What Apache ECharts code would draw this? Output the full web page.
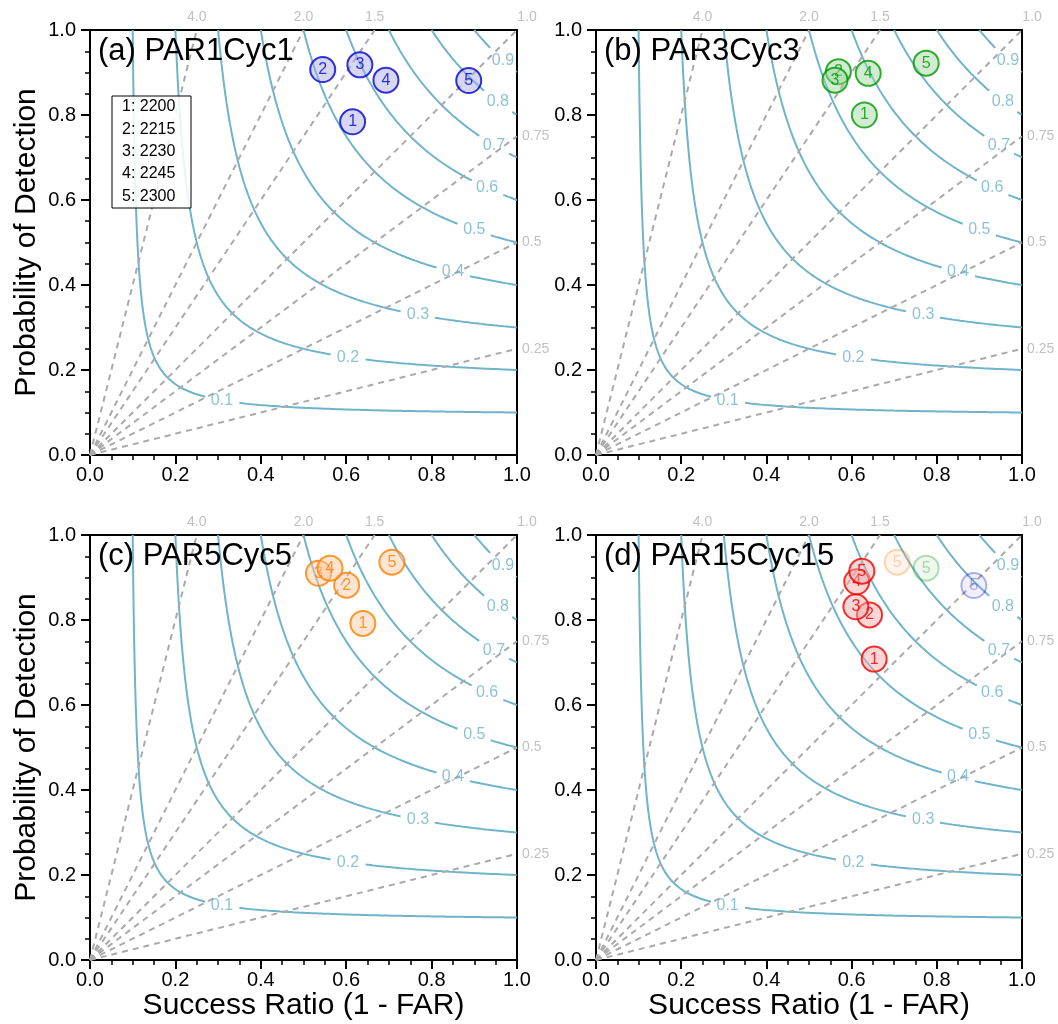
<!DOCTYPE html>
<html><head><meta charset="utf-8">
<script src="https://cdn.jsdelivr.net/npm/echarts@6/dist/echarts.min.js"></script>
<style>html,body{margin:0;padding:0;background:#fff}#c{width:1058px;height:1024px}</style>
</head><body><div id="c"></div>
<script>
// ---------- data ----------
const panelTitles = ['(a) PAR1Cyc1', '(b) PAR3Cyc3', '(c) PAR5Cyc5', '(d) PAR15Cyc15'];
const times = ['2200', '2215', '2230', '2245', '2300'];
const pointNames = ['1', '2', '3', '4', '5'];
const csiLevels = [0.1, 0.2, 0.3, 0.4, 0.5, 0.6, 0.7, 0.8, 0.9];
const csiLabelSR = [0.309, 0.604, 0.768, 0.85, 0.90, 0.93, 0.946, 0.955, 0.967];
const biasLevels = [4.0, 2.0, 1.5, 1.0, 0.75, 0.5, 0.25];
const biasLabels = ['4.0', '2.0', '1.5', '1.0', '0.75', '0.5', '0.25'];
// success ratio / POD for each panel
const srA = [0.615, 0.545, 0.632, 0.693, 0.887];
const podA = [0.784, 0.907, 0.918, 0.882, 0.881];
const srB = [0.630, 0.569, 0.561, 0.639, 0.775];
const podB = [0.800, 0.902, 0.882, 0.898, 0.922];
const srC = [0.639, 0.601, 0.535, 0.562, 0.707];
const podC = [0.792, 0.882, 0.910, 0.922, 0.936];
const srD = [0.653, 0.642, 0.610, 0.612, 0.624];
const podD = [0.708, 0.812, 0.831, 0.890, 0.915];

// ---------- style ----------
const FONT = 'Liberation Sans, Arial, Helvetica, sans-serif';
const CSI_COLOR = '#6fb4c9';
const BIAS_COLOR = '#aaaaaa';
const grids = [
  {left: 90, top: 30, width: 427, height: 425},
  {left: 596, top: 30, width: 426, height: 425},
  {left: 90, top: 535, width: 427, height: 425},
  {left: 596, top: 535, width: 426, height: 425}
];
const palettes = [
  {edge: '#0000cc', fill: 'rgba(170,170,235,0.6)'},
  {edge: '#009900', fill: 'rgba(160,215,160,0.6)'},
  {edge: '#ff7f00', fill: 'rgba(255,200,160,0.6)'},
  {edge: '#ee0000', fill: 'rgba(245,170,170,0.6)'}
];
const panelData = [[srA, podA], [srB, podB], [srC, podC], [srD, podD]];

function csiCurve(c) {
  const pts = [];
  const s = 2 * c / (1 + c);
  for (let pod = 1; pod > s; pod -= 0.002) {
    pts.push([1 / (1 / c + 1 - 1 / pod), pod]);
  }
  for (let sr = s; sr <= 1.00001; sr += 0.002) {
    pts.push([sr, 1 / (1 / c + 1 - 1 / sr)]);
  }
  return pts;
}
function podAt(c, sr) { return 1 / (1 / c + 1 - 1 / sr); }

const xAxes = [], yAxes = [], series = [], graphics = [];
grids.forEach((g, gi) => {
  const bottomRow = gi >= 2, leftCol = gi % 2 === 0;
  xAxes.push({
    gridIndex: gi, type: 'value', min: 0, max: 1, interval: 0.2,
    name: bottomRow ? 'Success Ratio (1 - FAR)' : '', nameLocation: 'middle', nameGap: 31,
    nameTextStyle: {fontSize: 30, color: '#000', fontFamily: FONT},
    axisLine: {lineStyle: {color: '#000', width: 2}},
    axisTick: {length: 9, lineStyle: {width: 2, color: '#000'}},
    minorTick: {show: true, splitNumber: 4, length: 5, lineStyle: {width: 1.5, color: '#000'}},
    splitLine: {show: false},
    axisLabel: {fontSize: 20, color: '#000', fontFamily: FONT, margin: 10, formatter: v => v.toFixed(1)}
  });
  yAxes.push({
    gridIndex: gi, type: 'value', min: 0, max: 1, interval: 0.2,
    name: leftCol ? 'Probability of Detection' : '', nameLocation: 'middle', nameGap: 48,
    nameTextStyle: {fontSize: 30, color: '#000', fontFamily: FONT},
    axisLine: {lineStyle: {color: '#000', width: 2}},
    axisTick: {length: 9, lineStyle: {width: 2, color: '#000'}},
    minorTick: {show: true, splitNumber: 4, length: 5, lineStyle: {width: 1.5, color: '#000'}},
    splitLine: {show: false},
    axisLabel: {fontSize: 20, color: '#000', fontFamily: FONT, margin: 14, formatter: v => v.toFixed(1)}
  });

  // CSI contours with gaps at labels
  csiLevels.forEach((c, ci) => {
    const lx = csiLabelSR[ci], ly = podAt(c, lx);
    const pts = csiCurve(c);
    const segA = [], segB = [];
    let passed = false;
    pts.forEach(p => {
      const d = Math.hypot(p[0] - lx, p[1] - ly);
      if (d < 0.04) { passed = true; return; }
      (passed ? segB : segA).push(p);
    });
    [segA, segB].forEach(seg => {
      series.push({type: 'line', xAxisIndex: gi, yAxisIndex: gi, data: seg, symbol: 'none',
        silent: true, animation: false, z: 2,
        lineStyle: {color: CSI_COLOR, width: 2}});
    });
    series.push({type: 'scatter', xAxisIndex: gi, yAxisIndex: gi, data: [[lx, ly]], symbolSize: 0,
      silent: true, animation: false, z: 3,
      label: {show: true, position: 'inside', formatter: String(c), fontSize: 16, color: CSI_COLOR, fontFamily: FONT}});
  });

  // Bias lines
  biasLevels.forEach((b, bi) => {
    const end = b >= 1 ? [1 / b, 1] : [1, b];
    series.push({type: 'line', xAxisIndex: gi, yAxisIndex: gi, data: [[0, 0], end], symbol: 'none',
      silent: true, animation: false, z: 2,
      lineStyle: {color: BIAS_COLOR, width: 2, type: [6, 5]}});
    let label;
    if (b > 1) label = {position: 'top', distance: 6};
    else if (b === 1) label = {position: 'top', distance: 6, offset: [10, 0]};
    else label = {position: 'right', distance: 5};
    series.push({type: 'scatter', xAxisIndex: gi, yAxisIndex: gi, data: [end], symbolSize: 0,
      silent: true, animation: false, z: 3, clip: false,
      label: Object.assign({show: true, formatter: biasLabels[bi], fontSize: 14, color: '#b0b0b0', fontFamily: FONT}, label)});
  });

  // faded reference points (panel d only): last points of other panels
  if (gi === 3) {
    [2, 1, 0].forEach(pi => {
      const [sr, pod] = panelData[pi];
      const pal = palettes[pi];
      series.push({type: 'scatter', xAxisIndex: gi, yAxisIndex: gi,
        data: [[sr[4], pod[4], pointNames[4]]], symbolSize: 25, animation: false, z: 5,
        itemStyle: {color: pal.fill, borderColor: pal.edge, borderWidth: 2, opacity: 0.3},
        label: {show: true, position: 'inside', formatter: p => p.value[2], fontSize: 16,
          color: pal.edge, opacity: 0.3, fontFamily: FONT}});
    });
  }
  // main points
  const [sr, pod] = panelData[gi];
  const pal = palettes[gi];
  sr.forEach((x, i) => {
    series.push({type: 'scatter', xAxisIndex: gi, yAxisIndex: gi,
      data: [[x, pod[i], pointNames[i]]], symbolSize: 25, animation: false, z: 6 + i * 0.01,
      itemStyle: {color: pal.fill, borderColor: pal.edge, borderWidth: 2},
      label: {show: true, position: 'inside', formatter: p => p.value[2], fontSize: 16,
        color: pal.edge, fontFamily: FONT}});
  });

  graphics.push({type: 'text', left: g.left + 8, top: g.top + 6, z: 100,
    style: {text: panelTitles[gi], fontSize: 31, fill: '#000', fontFamily: FONT}});
});

// time legend in panel (a)
graphics.push({type: 'rect', shape: {x: 112, y: 96, width: 79, height: 112}, z: 100,
  style: {fill: 'rgba(255,255,255,0.85)', stroke: '#000', lineWidth: 1}});
times.forEach((t, i) => {
  graphics.push({type: 'text', x: 122, y: 107 + i * 22.3, z: 101,
    style: {text: pointNames[i] + ': ' + t, fontSize: 16, fill: '#000', fontFamily: FONT, verticalAlign: 'middle'}});
});

const chart = echarts.init(document.getElementById('c'), null, {renderer: 'canvas'});
chart.setOption({
  animation: false,
  backgroundColor: '#fff',
  grid: grids.map(g => Object.assign({show: true, borderColor: '#000', borderWidth: 2, backgroundColor: 'transparent'}, g)),
  xAxis: xAxes,
  yAxis: yAxes,
  series: series,
  graphic: graphics
});
</script>
</body></html>
